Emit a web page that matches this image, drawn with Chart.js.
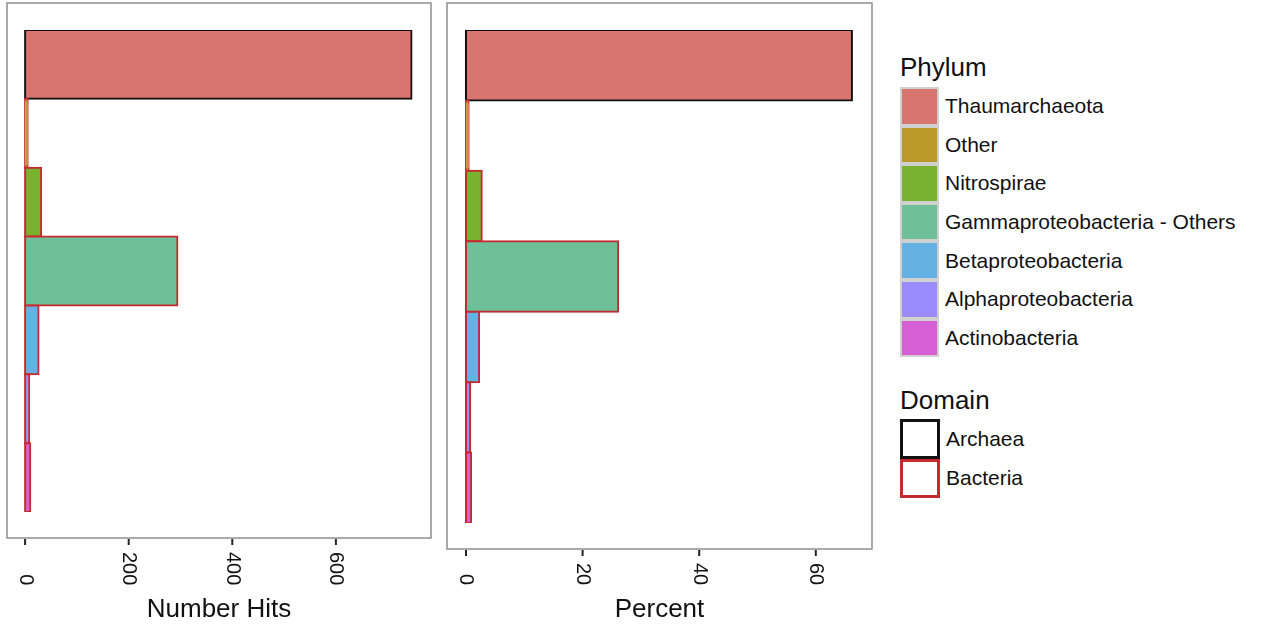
<!DOCTYPE html>
<html>
<head>
<meta charset="utf-8">
<script src="https://cdn.jsdelivr.net/npm/chart.js@4.4.1/dist/chart.umd.min.js"></script>
<style>
  body { margin: 0; background: #fff; font-family: "Liberation Sans", Arial, Helvetica, sans-serif; color: #111; }
  #wrap { position: relative; width: 1262px; height: 625px; overflow: hidden; }
  canvas { position: absolute; top: 0; }
  #hits { left: 0; }
  #pct { left: 440px; }
  .legend { position: absolute; left: 900px; }
  .legend h3 { margin: 0; font-weight: normal; font-size: 26px; line-height: 26px; }
  .item { display: flex; align-items: center; font-size: 21px; }
  .key { box-sizing: border-box; margin-right: 6px; }
  .phy .key { width: 39px; height: 38.6px; border: 2px solid #d0d0d0; }
  .dom .key { width: 40px; height: 39.5px; border: 3px solid #111; background: #fff; }
</style>
</head>
<body>
<div id="wrap">
  <canvas id="hits" width="440" height="625"></canvas>
  <canvas id="pct" width="440" height="625"></canvas>
  <div class="legend phy" id="phyLegend" style="top:54px"><h3 style="margin-bottom:7px">Phylum</h3></div>
  <div class="legend dom" id="domLegend" style="top:387px"><h3 style="margin-bottom:6px">Domain</h3></div>
</div>
<script>
// phyla from top to bottom
const phyla = ['Thaumarchaeota', 'Other', 'Nitrospirae', 'Gammaproteobacteria - Others',
  'Betaproteobacteria', 'Alphaproteobacteria', 'Actinobacteria'];
const domainOf = ['Archaea', 'Bacteria', 'Bacteria', 'Bacteria', 'Bacteria', 'Bacteria', 'Bacteria'];
const domains = ['Archaea', 'Bacteria'];
const numberHits = [746, 5, 31, 294, 26, 8, 10];
const percentHits = [66.2, 0.45, 2.7, 26.1, 2.25, 0.72, 0.88];
const hitTicks = [0, 200, 400, 600];
const percentTicks = [0, 20, 40, 60];

const phylumColors = ['#D8756E', '#BA982A', '#78B22E', '#6EC098', '#64B2E4', '#9B8AFA', '#D85ED6'];
const domainColors = { Archaea: '#111111', Bacteria: '#C62A31' };
const FONT = '"Liberation Sans", Arial, Helvetica, sans-serif';

// grey panel box, tick marks, rotated tick labels and the axis title
const panelFrame = {
  id: 'panelFrame',
  afterDraw(chart, args, opts) {
    const { ctx, chartArea: a, scales: { x } } = chart;
    const top = a.top - 27, bottom = a.bottom + 26;
    ctx.save();
    ctx.strokeStyle = '#8f8f8f';
    ctx.lineWidth = 1.5;
    ctx.strokeRect(a.left, top, a.right - a.left, bottom - top);

    ctx.strokeStyle = '#222';
    ctx.lineWidth = 2;
    ctx.font = '20px ' + FONT;
    ctx.fillStyle = '#111';
    const widest = Math.max(...opts.ticks.map(t => ctx.measureText(String(t)).width));
    const labelEnd = bottom + 14 + widest;
    opts.ticks.forEach(t => {
      const px = x.getPixelForValue(t);
      ctx.beginPath();
      ctx.moveTo(px, bottom + 1);
      ctx.lineTo(px, bottom + 7);
      ctx.stroke();
      ctx.save();
      ctx.translate(px, labelEnd);
      ctx.rotate(Math.PI / 2);
      ctx.textAlign = 'right';
      ctx.textBaseline = 'middle';
      ctx.fillText(String(t), 0, 0);
      ctx.restore();
    });

    ctx.font = '26px ' + FONT;
    ctx.textAlign = 'center';
    ctx.textBaseline = 'alphabetic';
    ctx.fillText(opts.title, (a.left + a.right) / 2, 617);
    ctx.restore();
  }
};

function makeChart(id, values, ticks, title, min, max, padding) {
  return new Chart(document.getElementById(id), {
    type: 'bar',
    data: {
      labels: phyla,
      datasets: [{
        data: values,
        backgroundColor: phylumColors,
        borderColor: domainOf.map(d => domainColors[d]),
        borderWidth: 2,
        borderSkipped: false,
        inflateAmount: 1,
        categoryPercentage: 1,
        barPercentage: 1
      }]
    },
    options: {
      indexAxis: 'y',
      responsive: false,
      animation: false,
      events: [],
      layout: { padding },
      scales: {
        x: { type: 'linear', min, max, display: false },
        y: { display: false }
      },
      plugins: {
        legend: { display: false },
        tooltip: { enabled: false },
        panelFrame: { ticks, title }
      }
    },
    plugins: [panelFrame]
  });
}

makeChart('hits', numberHits, hitTicks, 'Number Hits', -34.9, 783.6,
  { left: 7, right: 9, top: 30, bottom: 113 });
makeChart('pct', percentHits, percentTicks, 'Percent', -3.26, 69.64,
  { left: 7, right: 8, top: 30, bottom: 102 });

// legend blocks
const phyLegend = document.getElementById('phyLegend');
phyla.forEach((p, i) => {
  const row = document.createElement('div');
  row.className = 'item';
  row.innerHTML = '<span class="key" style="background:' + phylumColors[i] + '"></span><span>' + p + '</span>';
  phyLegend.appendChild(row);
});
const domLegend = document.getElementById('domLegend');
domains.forEach(d => {
  const row = document.createElement('div');
  row.className = 'item';
  row.innerHTML = '<span class="key" style="border-color:' + domainColors[d] + '"></span><span>' + d + '</span>';
  domLegend.appendChild(row);
});
</script>
</body>
</html>
